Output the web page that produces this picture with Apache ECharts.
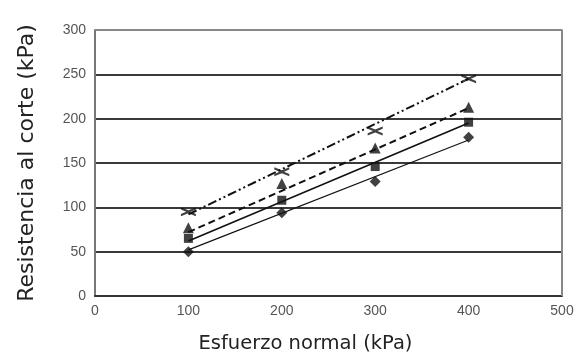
<!DOCTYPE html>
<html>
<head>
<meta charset="utf-8">
<script src="https://cdn.jsdelivr.net/npm/echarts@6/dist/echarts.min.js"></script>
<style>
  html, body { margin: 0; padding: 0; background: #fff; }
  #chart { width: 582px; height: 361px; }
</style>
</head>
<body>
<div id="chart"></div>
<script>
const normalStress = [100, 200, 300, 400];

// measured points per test series
const diamondPts = [50, 94, 129, 179];
const squarePts = [65, 108, 146, 196];
const trianglePts = [77, 127, 167, 213];
const crossPts = [95, 140, 186, 245];

// trend lines (value at 100 and 400 kPa)
const fitX = [100, 400];
const diamondFit = [52, 176];
const squareFit = [62, 195];
const triangleFit = [72, 212];
const crossFit = [92, 245];

const yTicks = [0, 50, 100, 150, 200, 250, 300];

const pairs = (xs, ys) => xs.map((x, i) => [x, ys[i]]);

const CROSS = "path://M0,0L10,4L20,0L20,3L13,6L20,9L20,12L10,8L0,12L0,9L7,6L0,3Z";

const chart = echarts.init(document.getElementById("chart"), null, { renderer: "canvas" });

const fitLine = (data, width, type) => ({
  type: "line",
  data: pairs(fitX, data),
  symbol: "none",
  silent: true,
  lineStyle: { color: "#111", width, type },
  z: 2,
});

const markers = (data, symbol, size) => ({
  type: "scatter",
  data: pairs(normalStress, data),
  symbol,
  symbolSize: size,
  itemStyle: { color: "#111" },
  z: 3,
});

chart.setOption({
  animation: false,
  backgroundColor: "#fff",
  grid: { left: 95, right: 20, top: 30, bottom: 65 },
  xAxis: {
    type: "value",
    min: 0,
    max: 500,
    interval: 100,
    name: "Esfuerzo normal (kPa)",
    nameLocation: "middle",
    nameGap: 38,
    nameTextStyle: { color: "#222", fontSize: 19.5, fontFamily: "DejaVu Sans", padding: [0, 46, 0, 0] },
    axisLine: { show: true, lineStyle: { color: "#333", width: 2 } },
    axisTick: { show: false },
    axisLabel: { color: "#555", fontSize: 14, fontFamily: "Liberation Sans", margin: 8 },
    splitLine: { show: false },
  },
  yAxis: {
    type: "value",
    min: yTicks[0],
    max: yTicks[yTicks.length - 1],
    interval: 50,
    name: "Resistencia al corte (kPa)",
    nameLocation: "middle",
    nameGap: 57,
    nameTextStyle: { color: "#222", fontSize: 22, fontFamily: "DejaVu Sans" },
    axisLine: { show: true, lineStyle: { color: "#777", width: 2 } },
    axisTick: { show: false },
    axisLabel: { color: "#555", fontSize: 14, fontFamily: "Liberation Sans", margin: 9 },
    splitLine: { show: true, lineStyle: { color: "#3a3a3a", width: 2 } },
  },
  series: [
    fitLine(diamondFit, 1.2, "solid"),
    fitLine(squareFit, 1.6, "solid"),
    fitLine(triangleFit, 2, [7, 4]),
    fitLine(crossFit, 2, [9, 3, 2, 3, 2, 3]),
    markers(diamondPts, "diamond", 11),
    markers(squarePts, "rect", 9),
    markers(trianglePts, "triangle", 11),
    markers(crossPts, CROSS, [15, 9]),
    {
      // plot frame on the right and top
      type: "line",
      data: [[0, 300], [500, 300], [500, 0]],
      symbol: "none",
      silent: true,
      lineStyle: { color: "#888", width: 2 },
      z: 1,
    },
  ],
});
</script>
</body>
</html>
